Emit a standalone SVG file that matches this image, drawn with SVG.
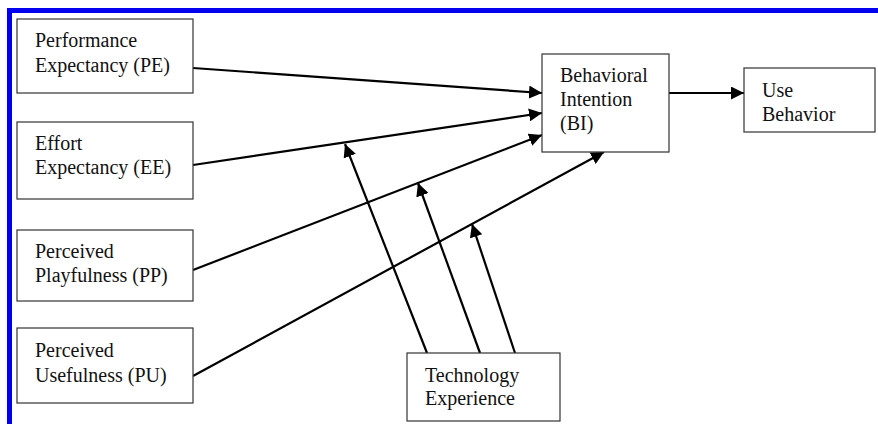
<svg xmlns="http://www.w3.org/2000/svg" width="878" height="424" viewBox="0 0 878 424">
<style>
.box{fill:#fff;stroke:#333;stroke-width:1.2}
.t{font-family:"Liberation Serif","Times New Roman",serif;font-size:20px;fill:#111}
.c{stroke:#000;stroke-width:2.2;fill:none;marker-end:url(#ah)}
</style>
<defs>
<marker id="ah" markerUnits="userSpaceOnUse" markerWidth="14" markerHeight="13" refX="13" refY="6.5" orient="auto">
<path d="M0,0 L13,6.5 L0,13 z" fill="#000"/>
</marker>
</defs>
<rect width="878" height="424" fill="#fff"/>
<rect x="7" y="8" width="871" height="5" fill="#0000f0"/>
<rect x="7" y="8" width="5" height="416" fill="#0000f0"/>
<g id="connectors">
<line class="c" x1="193" y1="68" x2="542" y2="93"/>
<line class="c" x1="193" y1="165" x2="542" y2="113"/>
<line class="c" x1="193" y1="270" x2="542" y2="135"/>
<line class="c" x1="193" y1="376" x2="604" y2="152"/>
<line class="c" x1="669" y1="93" x2="744" y2="93"/>
<line class="c" x1="427" y1="353" x2="345" y2="144"/>
<line class="c" x1="480" y1="353" x2="418" y2="183"/>
<line class="c" x1="515" y1="353" x2="472" y2="224"/>
</g>
<g id="PE"><rect class="box" x="17" y="19" width="176" height="74"/><text class="t" x="35" y="47">Performance</text><text class="t" x="35" y="72">Expectancy (PE)</text></g>
<g id="EE"><rect class="box" x="17" y="122" width="176" height="77"/><text class="t" x="35" y="150">Effort</text><text class="t" x="35" y="174">Expectancy (EE)</text></g>
<g id="PP"><rect class="box" x="17" y="230" width="176" height="71"/><text class="t" x="35" y="258">Perceived</text><text class="t" x="35" y="282">Playfulness (PP)</text></g>
<g id="PU"><rect class="box" x="17" y="328" width="176" height="75"/><text class="t" x="35" y="357">Perceived</text><text class="t" x="35" y="382">Usefulness (PU)</text></g>
<g id="BI"><rect class="box" x="542" y="54" width="127" height="98"/><text class="t" x="560" y="82">Behavioral</text><text class="t" x="560" y="106">Intention</text><text class="t" x="560" y="130">(BI)</text></g>
<g id="UB"><rect class="box" x="744" y="68" width="131" height="64"/><text class="t" x="762" y="97">Use</text><text class="t" x="762" y="121">Behavior</text></g>
<g id="TE"><rect class="box" x="407" y="353" width="153" height="68"/><text class="t" x="425" y="382">Technology</text><text class="t" x="425" y="405">Experience</text></g>
</svg>
